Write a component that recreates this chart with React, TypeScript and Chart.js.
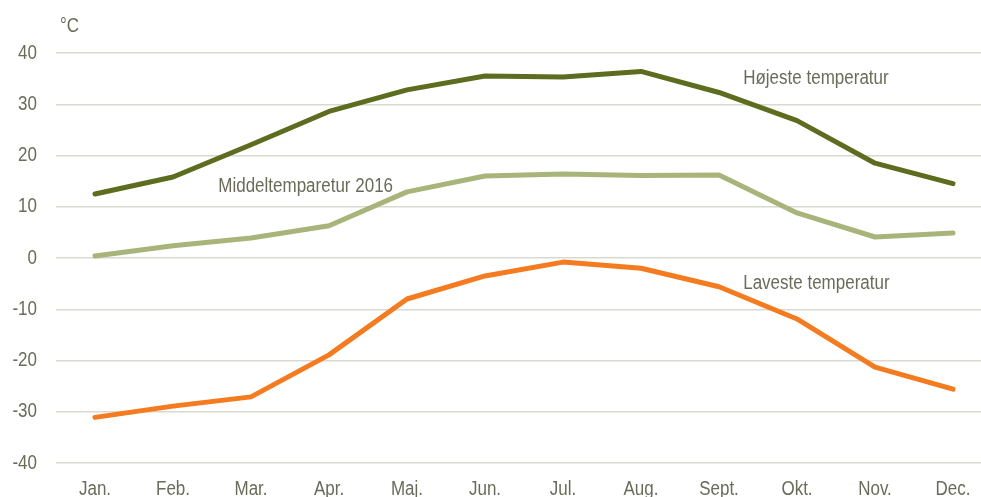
import React, { useEffect, useRef } from "react";
import { Chart, registerables } from "chart.js";

Chart.register(...registerables);

const months = ["Jan.", "Feb.", "Mar.", "Apr.", "Maj.", "Jun.", "Jul.", "Aug.", "Sept.", "Okt.", "Nov.", "Dec."];
const highest = [12.5, 15.8, 22.1, 28.6, 32.8, 35.5, 35.3, 36.4, 32.3, 26.8, 18.5, 14.5];
const mean2016 = [0.4, 2.4, 3.9, 6.3, 12.9, 16.0, 16.4, 16.1, 16.2, 8.8, 4.1, 4.9];
const lowest = [-31.1, -28.9, -27.1, -18.9, -8.0, -3.5, -0.8, -2.0, -5.6, -11.9, -21.3, -25.6];
const yTicks = [-40, -30, -20, -10, 0, 10, 20, 30, 40];
const seriesNames = ["Højeste temperatur", "Middeltemparetur 2016", "Laveste temperatur"];
const unit = "°C";

const FONT = '"Liberation Sans", Arial, sans-serif';
const TEXT = "#6b6b5a";
const SQUEEZE = 0.85;

function narrowText(ctx: CanvasRenderingContext2D, text: string, x: number, y: number, align: "left" | "right" | "center") {
  ctx.save();
  ctx.translate(x, y);
  ctx.scale(SQUEEZE, 1);
  ctx.textAlign = align;
  ctx.fillText(text, 0, 0);
  ctx.restore();
}

const labelPlugin = {
  id: "seriesLabels",
  afterDatasetsDraw(chart: any) {
    const { ctx, scales } = chart;
    const x = scales.x;
    const y = scales.y;
    const spots = [
      { text: seriesNames[0], xi: 8.31, yv: 35.1 },
      { text: seriesNames[1], xi: 1.58, yv: 14.0 },
      { text: seriesNames[2], xi: 8.31, yv: -4.9 },
    ];
    ctx.save();
    ctx.font = `20px ${FONT}`;
    ctx.fillStyle = TEXT;
    ctx.textBaseline = "middle";
    for (const s of spots) {
      narrowText(ctx, s.text, x.getPixelForValue(s.xi), y.getPixelForValue(s.yv), "left");
    }
    narrowText(ctx, unit, chart.chartArea.left + 4, 26, "left");
    y.ticks.forEach((t: any, i: number) => {
      narrowText(ctx, String(t.value), chart.chartArea.left - 19, y.getPixelForTick(i), "right");
    });
    months.forEach((m, i) => {
      narrowText(ctx, m, x.getPixelForTick(i), chart.chartArea.bottom + 26, "center");
    });
    ctx.restore();
  },
};

export default function App() {
  const ref = useRef<HTMLCanvasElement | null>(null);
  useEffect(() => {
    document.body.style.margin = "0";
    document.body.style.overflow = "hidden";
    const mk = (label: string, data: number[], color: string) => ({
      label,
      data,
      borderColor: color,
      backgroundColor: color,
      borderWidth: 5,
      borderCapStyle: "round" as const,
      borderJoinStyle: "round" as const,
      pointRadius: 0,
      tension: 0,
      fill: false,
    });
    const chart = new Chart(ref.current!, {
      type: "line",
      data: {
        labels: months,
        datasets: [
          mk(seriesNames[0], highest, "#5d6c1e"),
          mk(seriesNames[1], mean2016, "#a9b47b"),
          mk(seriesNames[2], lowest, "#f47b20"),
        ],
      },
      options: {
        animation: false,
        responsive: true,
        maintainAspectRatio: false,
        layout: { padding: { top: 53, right: 0, left: 0, bottom: 0 } },
        plugins: { legend: { display: false }, tooltip: { enabled: false } },
        scales: {
          x: {
            type: "category",
            offset: true,
            grid: { display: false, drawTicks: false },
            border: { display: false },
            ticks: { display: false },
            afterFit: (s: any) => { s.height = 57; },
          },
          y: {
            min: -40,
            max: 40,
            afterBuildTicks: (s: any) => { s.ticks = yTicks.map((v) => ({ value: v })); },
            grid: { color: "#d9d9d0", lineWidth: 1.5, drawTicks: false },
            border: { display: false },
            ticks: { display: false },
            afterFit: (s: any) => { s.width = 56; },
          },
        },
      },
      plugins: [labelPlugin],
    });
    return () => chart.destroy();
  }, []);
  return (
    <div style={{ position: "fixed", left: 0, top: 0, width: 981, height: 497, overflow: "hidden", background: "#fff" }}>
      <div style={{ position: "relative", width: 992, height: 520 }}>
        <canvas ref={ref} />
      </div>
    </div>
  );
}
